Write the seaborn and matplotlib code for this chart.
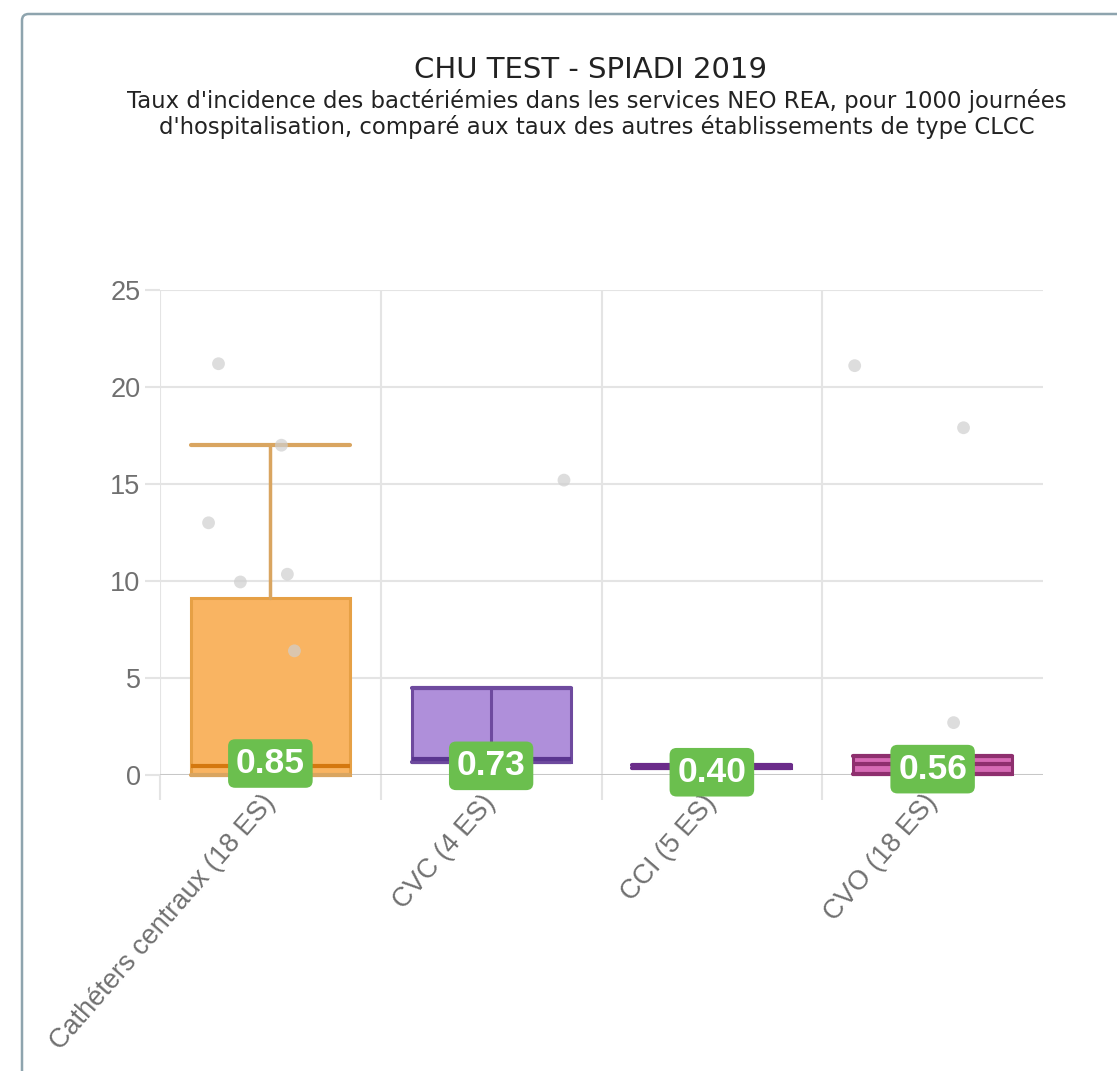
import matplotlib
matplotlib.use("Agg")
import matplotlib.pyplot as plt
import seaborn as sns
import numpy as np
import pandas as pd
from matplotlib.patches import FancyBboxPatch

# ---------------- data ----------------
categories = ["Cathéters centraux (18 ES)", "CVC (4 ES)", "CCI (5 ES)", "CVO (18 ES)"]
box_q1 = [0.0, 0.65, 0.38, 0.05]
box_med = [0.45, 0.8, 0.45, 0.55]
box_q3 = [9.1, 4.5, 0.52, 1.0]
whisk_lo = [0.0, 0.65, 0.38, 0.05]
whisk_hi = [17.0, 4.5, 0.52, 1.0]
es_rates = [0.85, 0.73, 0.40, 0.56]

point_cat = [0, 0, 0, 0, 0, 0, 1, 3, 3, 3]
point_val = [21.2, 13.0, 9.95, 17.0, 10.35, 6.4, 15.2, 21.1, 17.9, 2.7]
point_jitter = [-0.235, -0.28, -0.136, 0.05, 0.077, 0.109, 0.33, -0.353, 0.14, 0.095]

y_ticks = [0, 5, 10, 15, 20, 25]

title = "CHU TEST - SPIADI 2019"
subtitle = ("Taux d'incidence des bactériémies dans les services NEO REA, pour 1000 journées\n"
            "d'hospitalisation, comparé aux taux des autres établissements de type CLCC")

# ---------------- style ----------------
fill_colors = ["#F9B462", "#AF8FDA", "#C98AD2", "#D66BB5"]
edge_colors = ["#E6A045", "#6E4A9E", "#6B2C8A", "#8E2F6E"]
median_colors = ["#D4780F", "#5A3590", "#6B2C8A", "#8E2F6E"]
whisker_colors = ["#D9A560", "#6E4A9E", "#6B2C8A", "#8E2F6E"]
grid_col = "#e4e4e4"
tick_col = "#707070"

sns.set_theme(style="white")
plt.rcParams["font.family"] = ["DejaVu Sans"]

W, H = 1117, 1071
fig = plt.figure(figsize=(W / 100, H / 100), dpi=100)
fig.patch.set_facecolor("white")

# card border
card = FancyBboxPatch((22 / W, -0.05), 1.2, 1 - 14 / H + 0.05,
                      boxstyle="round,pad=0,rounding_size=0.006",
                      transform=fig.transFigure, fc="white", ec="#8ea4ae", lw=1.8,
                      zorder=-5)
fig.patches.append(card)

ax = fig.add_axes([160 / W, (H - 775) / H, (1043 - 160) / W, (775 - 290) / H])
ax.set_zorder(2)
ax.set_facecolor("none")
n = len(categories)
ax.set_xlim(-0.5, n - 0.5)
ax.set_ylim(0, 25)

# grid
ax.set_yticks(y_ticks)
ax.set_yticklabels([str(t) for t in y_ticks], fontsize=19.5, color=tick_col,
                   family="Liberation Sans")
ax.yaxis.grid(True, color=grid_col, lw=1.5, zorder=0)
ax.tick_params(axis="y", length=11, width=1.5, color=grid_col, pad=3, left=True)

ax.set_xticks(range(n))
ax.set_xticklabels(categories, rotation=49, ha="right", va="center",
                   rotation_mode="anchor", fontsize=19.5, color=tick_col,
                   family="Liberation Sans")
ax.tick_params(axis="x", which="major", length=0, pad=17, bottom=True)
ax.set_xticks(np.arange(-0.5, n - 1, 1.0), minor=True)
ax.xaxis.grid(True, which="minor", color=grid_col, lw=1.5, zorder=0)
ax.xaxis.grid(False, which="major")
ax.tick_params(axis="x", which="minor", length=18, width=1.5, color=grid_col,
               bottom=True)
for s in ax.spines.values():
    s.set_visible(False)
ax.axhline(0, color="#c4c4c4", lw=2, zorder=1)

# boxes
stats = []
for i in range(n):
    stats.append(dict(q1=box_q1[i], med=box_med[i], q3=box_q3[i],
                      whislo=whisk_lo[i], whishi=whisk_hi[i], fliers=[]))
bp = ax.bxp(stats, positions=range(n), widths=0.72, capwidths=0.72,
            patch_artist=True, showfliers=False, manage_ticks=False, zorder=3)
for i in range(n):
    b = bp["boxes"][i]
    b.set_facecolor(fill_colors[i])
    b.set_edgecolor(edge_colors[i])
    b.set_linewidth(2.2)
    b.set_clip_on(False)
    m = bp["medians"][i]
    m.set_color(median_colors[i])
    m.set_linewidth(3)
    m.set_clip_on(False)
    for k in (2 * i, 2 * i + 1):
        bp["whiskers"][k].set_color(whisker_colors[i])
        bp["whiskers"][k].set_linewidth(2.5)
        bp["caps"][k].set_color(whisker_colors[i])
        bp["caps"][k].set_linewidth(3)
        bp["caps"][k].set_clip_on(False)
# central line through the CVC box
ax.vlines(1, box_med[1], box_q3[1], color=edge_colors[1], lw=2.2, zorder=4)

# individual establishments
pts = pd.DataFrame({"x": np.array(point_cat) + np.array(point_jitter),
                    "y": point_val})
sns.scatterplot(data=pts, x="x", y="y", ax=ax, color="#cfcfcf", s=85,
                edgecolor="none", alpha=0.7, zorder=5, legend=False)
ax.set_xlabel("")
ax.set_ylabel("")

# ES labels
for i, v in enumerate(es_rates):
    ax.annotate(f"{v:.2f}", xy=(i, v), xytext=(0, -5), textcoords="offset pixels",
                ha="center", va="center", fontsize=25.5, fontweight="bold",
                family="Liberation Sans", color="white", zorder=10,
                annotation_clip=False,
                bbox=dict(boxstyle="round,pad=0.22,rounding_size=0.2",
                          fc="#6BBF4E", ec="none"))

# titles
fig.text(590 / W, 1 - 70 / H, title, ha="center", va="center", fontsize=21,
         color="#222222")
fig.text(597 / W, 1 - 114 / H, subtitle, ha="center", va="center", fontsize=16.4,
         color="#222222", linespacing=1.1)

fig.savefig("out.png", dpi=100)
